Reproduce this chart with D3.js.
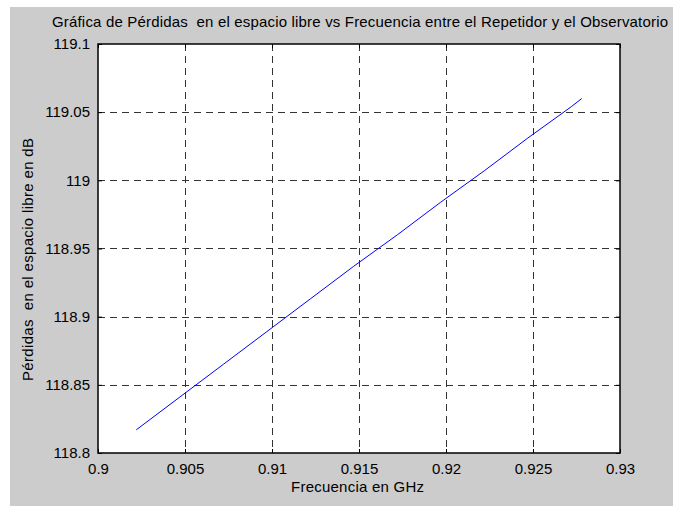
<!DOCTYPE html>
<html>
<head>
<meta charset="utf-8">
<script src="https://cdn.jsdelivr.net/npm/d3@7"></script>
<style>
  body { margin: 0; background: #fff; }
  text { font-family: "Liberation Sans", Arial, Helvetica, sans-serif; fill: #000; }
</style>
</head>
<body>
<div id="chart"></div>
<script>
// Frequency (GHz) and free-space loss (dB)
var frequency = [0.9022, 0.9047, 0.9072, 0.9097, 0.9122, 0.9147, 0.9172, 0.9197, 0.9222, 0.9247, 0.9272, 0.9278];
var loss = [118.817, 118.841, 118.865, 118.889, 118.913, 118.937, 118.960, 118.984, 119.007, 119.031, 119.054, 119.060];
var xTicks = [0.9, 0.905, 0.91, 0.915, 0.92, 0.925, 0.93];
var yTicks = [118.8, 118.85, 118.9, 118.95, 119, 119.05, 119.1];

var width = 673, height = 506;
var margin = { top: 44, right: 53, bottom: 53, left: 98 };
var chartWidth = width - margin.left - margin.right,
    chartHeight = height - margin.top - margin.bottom;

var svg = d3.select("#chart").append("svg")
    .attr("width", width)
    .attr("height", height);

// figure background
svg.append("rect")
    .attr("x", 10).attr("y", 7)
    .attr("width", width - 10).attr("height", height - 7)
    .attr("fill", "#cccccc");

var g = svg.append("g")
    .attr("transform", "translate(" + margin.left + "," + margin.top + ")");

var x = d3.scaleLinear().domain([0.9, 0.93]).range([0, chartWidth]);
var y = d3.scaleLinear().domain([118.8, 119.1]).range([chartHeight, 0]);

g.append("rect")
    .attr("width", chartWidth).attr("height", chartHeight)
    .attr("fill", "#fff");

// grid
g.selectAll(".vgrid")
    .data(xTicks.slice(1, -1))
    .enter().append("line")
    .attr("x1", function (d) { return Math.round(x(d)) + 0.5; })
    .attr("x2", function (d) { return Math.round(x(d)) + 0.5; })
    .attr("y1", 0).attr("y2", chartHeight)
    .attr("stroke", "#333").attr("stroke-dasharray", "7,5");

g.selectAll(".hgrid")
    .data(yTicks.slice(1, -1))
    .enter().append("line")
    .attr("y1", function (d) { return Math.round(y(d)) + 0.5; })
    .attr("y2", function (d) { return Math.round(y(d)) + 0.5; })
    .attr("x1", 0).attr("x2", chartWidth)
    .attr("stroke", "#333").attr("stroke-dasharray", "7,5");

// data line
var line = d3.line()
    .x(function (d, i) { return x(frequency[i]); })
    .y(function (d) { return y(d); });

g.append("path")
    .datum(loss)
    .attr("d", line)
    .attr("fill", "none")
    .attr("stroke", "#0000ff")
    .attr("stroke-width", 1);

// axes (ticks inward, MATLAB style)
function styleAxis(sel) {
    sel.select(".domain").remove();
    sel.selectAll(".tick line").attr("stroke", "#000");
    sel.selectAll(".tick text").attr("font-size", "15px")
        .attr("font-family", "'Liberation Sans', Arial, sans-serif");
}

g.append("g")
    .attr("transform", "translate(0," + chartHeight + ")")
    .call(d3.axisBottom(x).tickValues(xTicks).tickFormat(d3.format("")).tickSizeInner(-4).tickPadding(10))
    .call(styleAxis);

g.append("g")
    .call(d3.axisTop(x).tickValues(xTicks).tickFormat("").tickSizeInner(-4))
    .call(styleAxis);

g.append("g")
    .call(d3.axisLeft(y).tickValues(yTicks).tickFormat(d3.format("")).tickSizeInner(-4).tickPadding(8))
    .call(styleAxis);

g.append("g")
    .attr("transform", "translate(" + chartWidth + ",0)")
    .call(d3.axisRight(y).tickValues(yTicks).tickFormat("").tickSizeInner(-4))
    .call(styleAxis);

// box
g.append("rect")
    .attr("width", chartWidth).attr("height", chartHeight)
    .attr("fill", "none").attr("stroke", "#000").attr("stroke-width", 1.5);

// labels
svg.append("text")
    .attr("x", 52).attr("y", 27)
    .attr("font-size", "15px")
    .attr("textLength", 616).attr("lengthAdjust", "spacing")
    .style("white-space", "pre")
    .text("Gráfica de Pérdidas  en el espacio libre vs Frecuencia entre el Repetidor y el Observatorio");

svg.append("text")
    .attr("x", 291).attr("y", 492)
    .attr("font-size", "15px")
    .attr("textLength", 133).attr("lengthAdjust", "spacing")
    .text("Frecuencia en GHz");

svg.append("text")
    .attr("transform", "translate(33,381) rotate(-90)")
    .attr("font-size", "15px")
    .attr("textLength", 243).attr("lengthAdjust", "spacing")
    .style("white-space", "pre")
    .text("Pérdidas  en el espacio libre en dB");
</script>
</body>
</html>
